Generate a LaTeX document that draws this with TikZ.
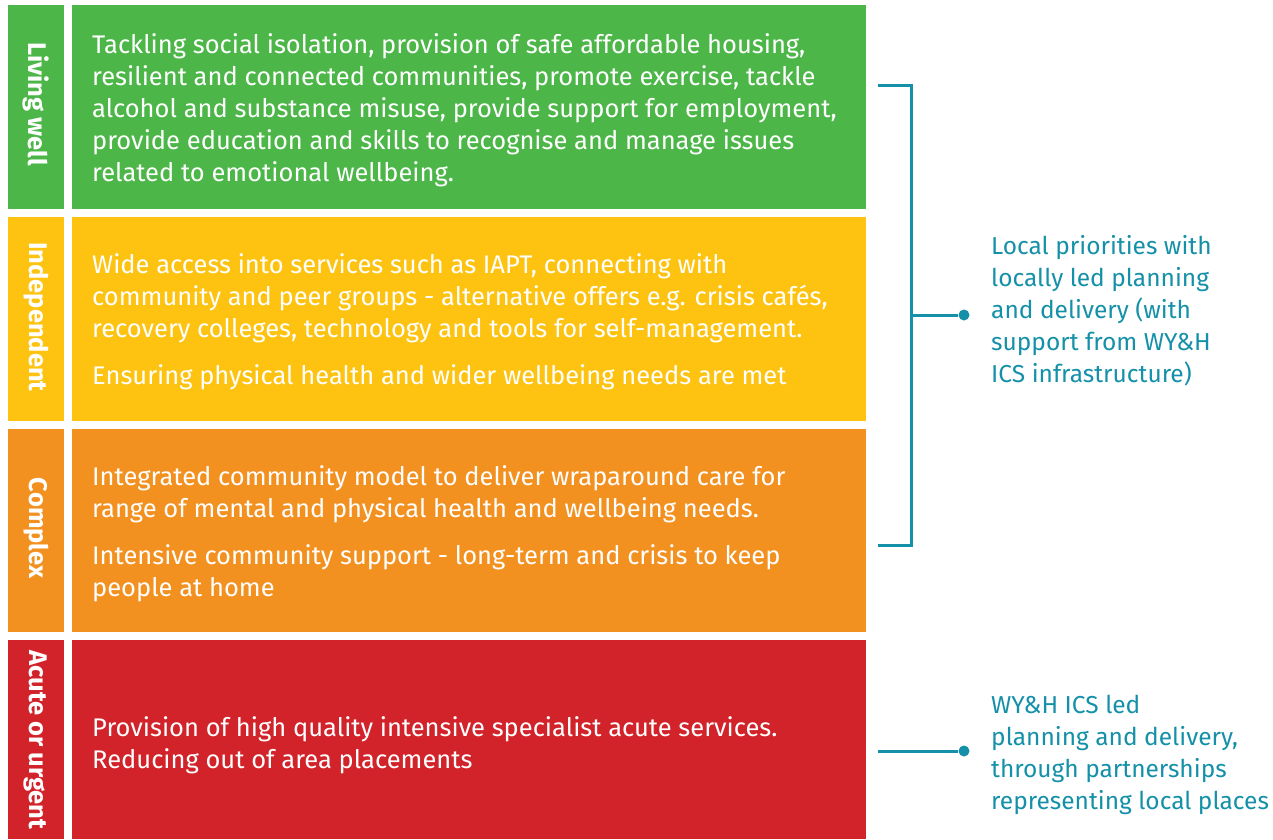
\documentclass[tikz,border=0pt]{standalone}
\usepackage{fontspec}
\setmainfont{Fira Sans}
\definecolor{lwgreen}{HTML}{4CB748}
\definecolor{indyellow}{HTML}{FDC310}
\definecolor{cxorange}{HTML}{F39120}
\definecolor{acred}{HTML}{D2232A}
\definecolor{teal}{HTML}{1490A8}
\begin{document}
\begin{tikzpicture}[x=1pt,y=-1pt,
  band/.style={fill=#1, draw=none},
  body/.style={anchor=base west, inner sep=0pt, align=left, text=white,
    font=\fontsize{25.5}{31.8}\selectfont},
  side/.style={rotate=-90, inner sep=0pt, text=white,
    font=\fontsize{25.5}{28}\selectfont\bfseries},
  note/.style={anchor=base west, inner sep=0pt, align=left, text=teal,
    font=\fontsize{24.5}{31.8}\selectfont},
  bracket/.style={draw=teal, line width=3pt},
  dot/.style={circle, fill=teal, inner sep=0pt, minimum size=11pt}]
\useasboundingbox (0,0) rectangle (1273,839);
% bands
\path[band=lwgreen] (8,5) rectangle (64,209);
\path[band=lwgreen] (72,5) rectangle (866,209);
\path[band=indyellow] (8,217) rectangle (64,421);
\path[band=indyellow] (72,217) rectangle (866,421);
\path[band=cxorange] (8,429) rectangle (64,632);
\path[band=cxorange] (72,429) rectangle (866,632);
\path[band=acred] (8,640) rectangle (64,839);
\path[band=acred] (72,640) rectangle (866,839);
% side labels
\node[side] (lw) at (36,104) {Living well};
\node[side] (ind) at (36,317) {Independent};
\node[side] (cx) at (36,528) {Complex};
\node[side] (ac) at (36,740) {Acute or urgent};
% body texts (anchored at the baseline of their last line)
\node[body] (t1) at (92,181) {Tackling social isolation, provision of safe affordable housing,\\
resilient and connected communities, promote exercise, tackle\\
alcohol and substance misuse, provide support for employment,\\
provide education and skills to recognise and manage issues\\
related to emotional wellbeing.};
\node[body] (t2) at (92,384) {Wide access into services such as IAPT, connecting with\\
community and peer groups - alternative offers e.g. crisis cafés,\\
recovery colleges, technology and tools for self-management.\\[15pt]
Ensuring physical health and wider wellbeing needs are met};
\node[body] (t3) at (92,596) {Integrated community model to deliver wraparound care for\\
range of mental and physical health and wellbeing needs.\\[15pt]
Intensive community support - long-term and crisis to keep\\
people at home};
\node[body] (t4) at (92,768) {Provision of high quality intensive specialist acute services.\\
Reducing out of area placements};
% notes
\node[note] (n1) at (991,382) {Local priorities with\\
locally led planning\\
and delivery (with\\
support from WY\&H\\
ICS infrastructure)};
\node[note] (n2) at (991,809) {WY\&H ICS led\\
planning and delivery,\\
through partnerships\\
representing local places};
% bracket
\coordinate (bt) at (878,85);
\coordinate (bb) at (878,545);
\coordinate (bm) at (911,315);
\node[dot] (d1) at (964,315) {};
\draw[bracket] (bt) -| (bm) |- (bb);
\draw[bracket] (bm) -- (d1);
\coordinate (ls) at (878,751);
\node[dot] (d2) at (964,751) {};
\draw[bracket] (ls) -- (d2);
\end{tikzpicture}
\end{document}
